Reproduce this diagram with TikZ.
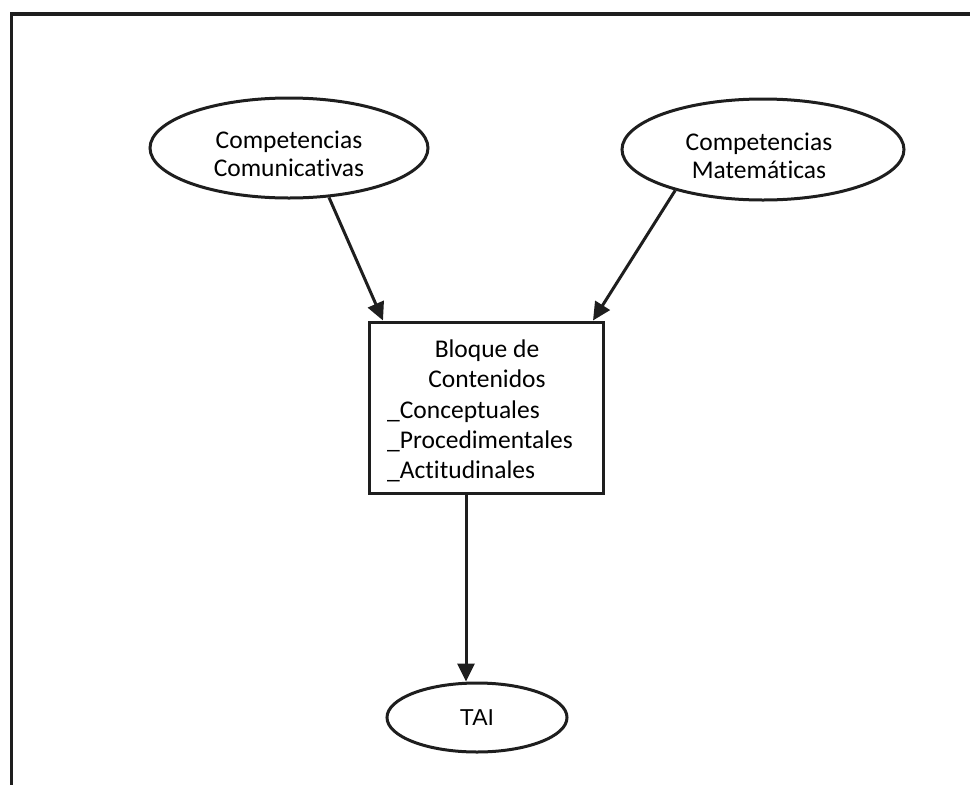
\documentclass[tikz,border=0pt]{standalone}
\usepackage{fontspec}
\setmainfont[Ligatures={NoCommon}]{Carlito}
\newfontfamily\arialfont{Liberation Sans}
\usetikzlibrary{shapes.geometric,arrows.meta}
\definecolor{ink}{HTML}{1E1E1E}
\tikzset{
  ellshape/.style={ellipse, draw=ink, line width=3pt, inner sep=0pt},
  boxshape/.style={rectangle, draw=ink, line width=3pt, inner sep=0pt},
  txt/.style={inner sep=0pt, align=center, font=\fontsize{25.5}{27.5}\selectfont},
  boxtxt/.style={inner sep=0pt, font=\fontsize{25.5}{30}\selectfont},
  conn/.style={draw=ink, line width=3pt, -{Triangle[length=18pt,width=17pt]}},
}
\begin{document}
\begin{tikzpicture}[x=1pt,y=-1pt]
\useasboundingbox (0,0) rectangle (970,785);
\begin{scope}
\clip (0,0) rectangle (970,785);
\draw[ink, line width=3.5pt] (11.5,820) -- (11.5,14) -- (1000,14);
\end{scope}
% nodes
\node[ellshape, minimum width=278pt, minimum height=100pt] (e1) at (289,148) {};
\node[txt] (e1t) at (289,154) {Competencias\\Comunicativas};
\node[ellshape, minimum width=282pt, minimum height=101pt] (e2) at (763,149.5) {};
\node[txt] (e2t) at (759,156) {Competencias\\Matemáticas};
\node[boxshape, minimum width=234pt, minimum height=171pt] (box) at (486,407.5) {};
\node[boxtxt, anchor=base] (b1) at (487,357) {Bloque de};
\node[boxtxt, anchor=base] (b2) at (487,387) {Contenidos};
\node[boxtxt, anchor=base west] (b3) at (387,418) {\_Conceptuales};
\node[boxtxt, anchor=base west] (b4) at (387,448) {\_Procedimentales};
\node[boxtxt, anchor=base west] (b5) at (387,478) {\_Actitudinales};
\node[ellshape, minimum width=180pt, minimum height=69pt, font=\arialfont\fontsize{23}{27}\selectfont] (tai) at (477,717.5) {TAI};
% connectors
\draw[conn] (e1.-51) -- ([xshift=-103pt]box.north);
\draw[conn] (e2.-155) -- ([xshift=107pt]box.north);
\draw[conn] ([xshift=-20pt]box.south) -- ([xshift=-11pt]tai.north);
\end{tikzpicture}
\end{document}
